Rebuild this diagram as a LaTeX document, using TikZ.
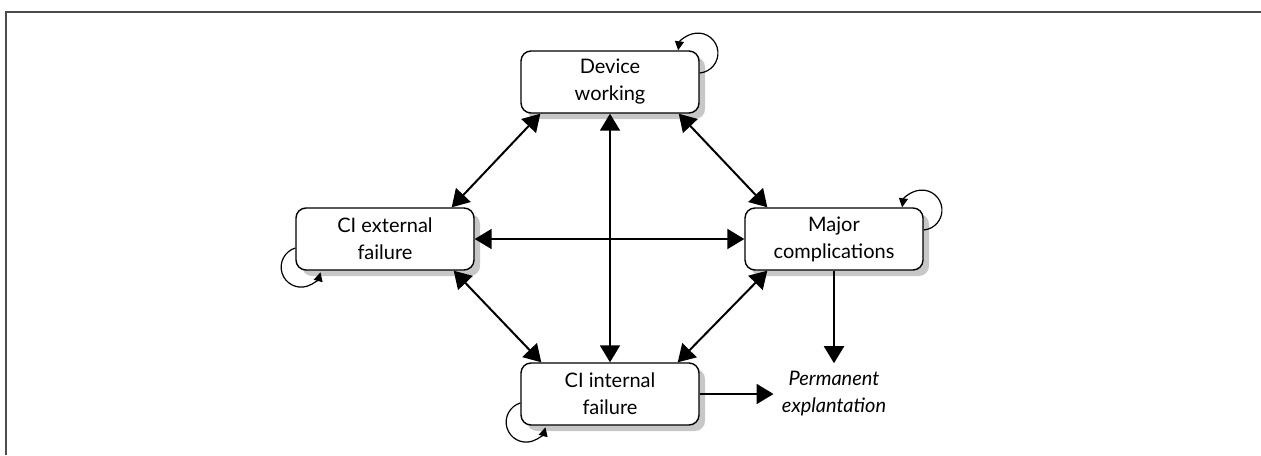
\documentclass[tikz,border=0pt]{standalone}
\usepackage{fontspec}
\setmainfont{Lato}
\usetikzlibrary{arrows.meta,shadows}
\tikzset{
  state/.style={draw, line width=0.7pt, rounded corners=5pt, fill=white, minimum width=89pt, minimum height=31pt, align=center,
    font=\fontsize{10}{13.5}\selectfont, drop shadow={shadow xshift=3pt, shadow yshift=-3pt, fill=black!22, opacity=1}},
  trans/.style={line width=1pt, {Triangle[length=8.5pt,width=10pt]}-{Triangle[length=8.5pt,width=10pt]}},
  oneway/.style={line width=1pt, -{Triangle[length=8.5pt,width=10pt]}},
  selfloop/.style={line width=0.6pt, -{Triangle[length=4.5pt,width=4.5pt]}}
}
\begin{document}
\begin{tikzpicture}[x=0.5pt, y=0.5pt]
        \useasboundingbox (0,0) rectangle (1261,-455);
        \draw[black!70, line width=1pt] (1261,-12) -- (6,-12) -- (6,-455);
        \node[state] (dev) at (610,-82) {Device\\working}; \node[state] (cie) at (385,-239) {CI external\\failure};
        \node[state] (maj) at (834,-239) {Major\\complications}; \node[state] (cii) at (610,-394) {CI internal\\failure};
        \node[align=center, font=\fontsize{10}{13.5}\selectfont\itshape, inner sep=4pt] (perm) at (834,-394) {Permanent\\explantation};
        \draw[trans] ([xshift=10pt]dev.south west) -- ([xshift=-11.5pt]cie.north east); \draw[trans] ([xshift=-10.5pt]dev.south east) -- ([xshift=11.5pt]maj.north west);
        \draw[trans] (dev) -- (cii); \draw[trans] (cie) -- (maj);
        \draw[trans] ([xshift=-10.5pt]cie.south east) -- ([xshift=10.5pt]cii.north west); \draw[trans] ([xshift=11.5pt]maj.south west) -- ([xshift=-11pt]cii.north east);
        \draw[oneway] (maj.south) -- (maj.south |- perm.north); \draw[oneway] (cii) -- (perm);
        % self loops
        \foreach \n in {dev,maj} \draw[selfloop] ([yshift=4.5pt]\n.east) arc[start angle=-85, end angle=172, radius=10pt];
        \foreach \n in {cie,cii} \draw[selfloop] ([yshift=-4.5pt]\n.west) arc[start angle=107, end angle=345, radius=10pt];
    \end{tikzpicture}
\end{document}
